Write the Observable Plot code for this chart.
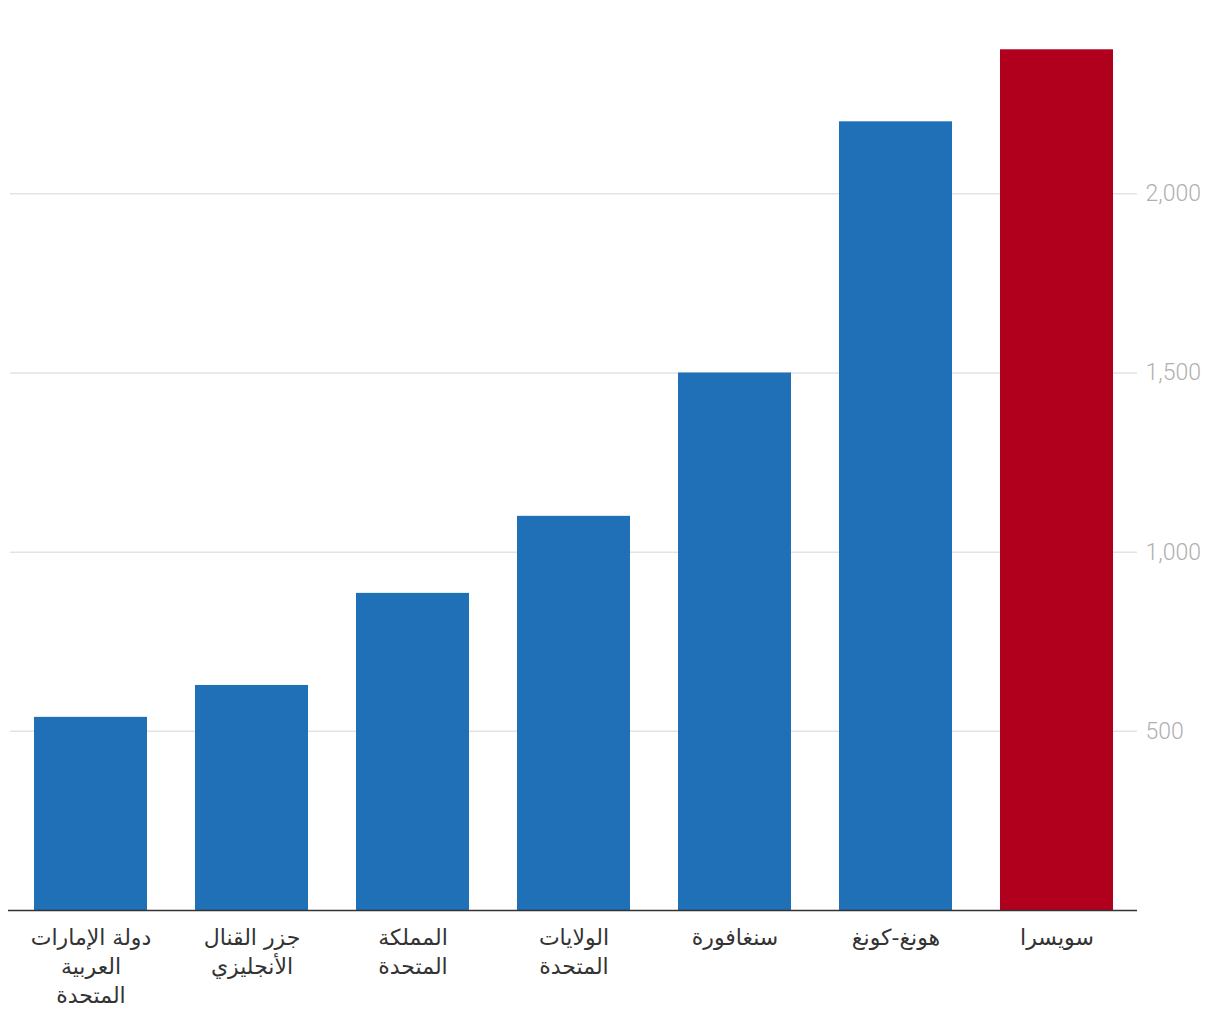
<!DOCTYPE html>
<html>
<head>
<meta charset="utf-8">
<script src="https://cdn.jsdelivr.net/npm/d3@7"></script>
<script src="https://cdn.jsdelivr.net/npm/@observablehq/plot@0.6"></script>
<style>
  html, body { margin: 0; padding: 0; background: #fff; }
  #chart svg { display: block; }
</style>
</head>
<body>
<div id="chart"></div>
<script>
const countries = [
  "دولة الإمارات\nالعربية\nالمتحدة",
  "جزر القنال\nالأنجليزي",
  "المملكة\nالمتحدة",
  "الولايات\nالمتحدة",
  "سنغافورة",
  "هونغ-كونغ",
  "سويسرا"
];
const values = [539, 628, 885, 1100, 1500, 2201, 2402];
const highlight = [false, false, false, false, false, false, true];
const yTicks = [500, 1000, 1500, 2000];

const data = countries.map((c, i) => ({country: c, value: values[i], hl: highlight[i]}));

const chart = Plot.plot({
  width: 1220,
  height: 1020,
  marginTop: 50,
  marginBottom: 110,
  marginLeft: 10,
  marginRight: 83,
  style: {background: "#fff", fontFamily: "Roboto, 'DejaVu Sans', sans-serif"},
  x: {domain: countries, padding: 0.3, paddingOuter: 0.15, label: null},
  y: {domain: [0, 2400], label: null},
  marks: [
    Plot.gridY(yTicks, {stroke: "#e3e3e3", strokeOpacity: 1, strokeWidth: 1.5}),
    Plot.barY(data, {x: "country", y: "value", fill: d => d.hl ? "#b0001e" : "#2070b8"}),
    Plot.ruleY([0], {stroke: "#333", strokeWidth: 1.6, insetLeft: -2}),
    Plot.axisY(yTicks, {anchor: "right", tickSize: 0, tickPadding: 8, textAnchor: "start",
      tickFormat: d3.format(","), fontSize: 23, fontWeight: 300, fill: "#b0b0b0", label: null}),
    Plot.axisX({anchor: "bottom", tickSize: 0, tickPadding: 14, fontSize: 22, lineHeight: 1.32,
      fill: "#333", label: null, fontFamily: "'DejaVu Sans', sans-serif"})
  ]
});
document.getElementById("chart").appendChild(chart);
</script>
</body>
</html>
